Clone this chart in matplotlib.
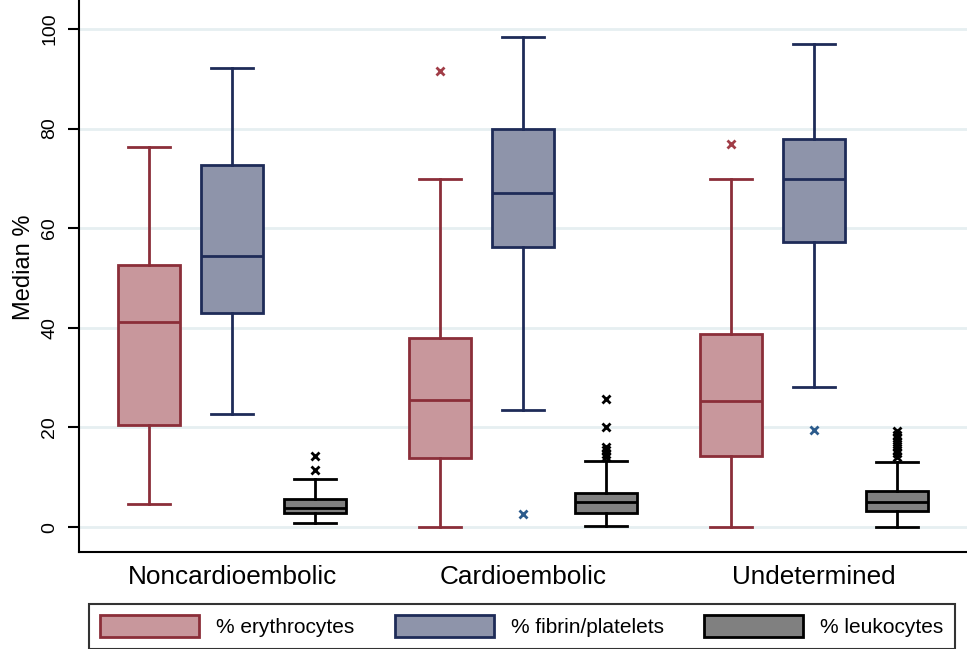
import matplotlib.pyplot as plt
from matplotlib.patches import Patch

plt.rcParams['font.family'] = ['Liberation Sans', 'DejaVu Sans']

# Groups and series
groups = ["Noncardioembolic", "Cardioembolic", "Undetermined"]
series = ["% erythrocytes", "% fibrin/platelets", "% leukocytes"]

# Box statistics: (whislo, q1, med, q3, whishi)
ery_stats = [(4.6, 20.5, 41.2, 52.7, 76.2),
             (0.0, 13.8, 25.6, 37.9, 69.9),
             (0.0, 14.3, 25.3, 38.8, 69.9)]
fib_stats = [(22.6, 43.0, 54.5, 72.7, 92.1),
             (23.5, 56.3, 67.1, 79.9, 98.4),
             (28.1, 57.2, 69.9, 77.9, 96.9)]
leu_stats = [(0.9, 2.9, 3.9, 5.7, 9.6),
             (0.3, 2.9, 5.0, 6.9, 13.2),
             (0.1, 3.2, 5.1, 7.2, 13.0)]

ery_fliers = [[], [91.6], [76.9]]
fib_fliers = [[], [2.6], [19.5]]
leu_fliers = [[14.3, 11.4],
              [25.7, 20.1, 16.1, 15.4, 14.7, 14.0],
              [19.2, 18.5, 17.8, 17.0, 16.3, 15.5, 14.8, 14.0]]

edge_colors = ["#8b2e39", "#1e2b58", "#000000"]
face_colors = ["#c8979c", "#8e94aa", "#808080"]
flier_colors = ["#a13d47", "#2c5b8c", "#000000"]
offsets = [-0.285, 0.0, 0.285]


def make_stats(stats, fliers):
    out = []
    for (lo, q1, med, q3, hi), fl in zip(stats, fliers):
        out.append(dict(whislo=lo, q1=q1, med=med, q3=q3, whishi=hi, fliers=fl))
    return out


fig = plt.figure(figsize=(9.67, 6.49), dpi=100)
ax = fig.add_axes([79 / 967, 1 - 552 / 649, 1 - 79 / 967, 552 / 649])

for yv in range(0, 101, 20):
    ax.axhline(yv, color="#e6eff1", lw=2, zorder=0)

all_stats = [(ery_stats, ery_fliers), (fib_stats, fib_fliers), (leu_stats, leu_fliers)]
for k, (st, fl) in enumerate(all_stats):
    ec, fc, flc = edge_colors[k], face_colors[k], flier_colors[k]
    pos = [g + offsets[k] for g in range(len(groups))]
    ax.bxp(make_stats(st, fl), positions=pos, widths=0.213, capwidths=0.144,
           patch_artist=True, manage_ticks=False,
           boxprops=dict(facecolor=fc, edgecolor=ec, linewidth=2),
           medianprops=dict(color=ec, linewidth=2),
           whiskerprops=dict(color=ec, linewidth=2),
           capprops=dict(color=ec, linewidth=2),
           flierprops=dict(marker="x", markersize=5.5, markeredgewidth=2,
                           markeredgecolor=flc, linestyle="none"),
           zorder=3)

ax.set_xlim(-0.526, 2.526)
ax.set_ylim(-5.0, 105.8)
ax.set_yticks(range(0, 101, 20))
ax.set_yticklabels([str(v) for v in range(0, 101, 20)], rotation=90, va="center",
                   fontsize=14)
ax.tick_params(axis="y", length=8, width=1.5, pad=7)
ax.set_xticks(range(len(groups)))
ax.set_xticklabels(groups, fontsize=18.8)
ax.tick_params(axis="x", length=0, pad=9)
ax.set_ylabel("Median %", fontsize=17)
ax.yaxis.set_label_coords(-0.0495, 0.515)

for s in ["top", "right"]:
    ax.spines[s].set_visible(False)
for s in ["left", "bottom"]:
    ax.spines[s].set_linewidth(1.5)

handles = [Patch(facecolor=face_colors[k], edgecolor=edge_colors[k], linewidth=2,
                 label=series[k]) for k in range(3)]
leg = fig.legend(handles=handles, loc="upper left", ncol=3,
                 bbox_to_anchor=(89 / 967, 1 - 604 / 649), borderaxespad=0,
                 fontsize=15, handlelength=4.75, handleheight=1.2,
                 handletextpad=0.8, columnspacing=1.95, borderpad=0.55,
                 fancybox=False, frameon=True)
leg.get_frame().set_edgecolor("black")
leg.get_frame().set_linewidth(1.5)

fig.savefig("out.png", dpi=100)
